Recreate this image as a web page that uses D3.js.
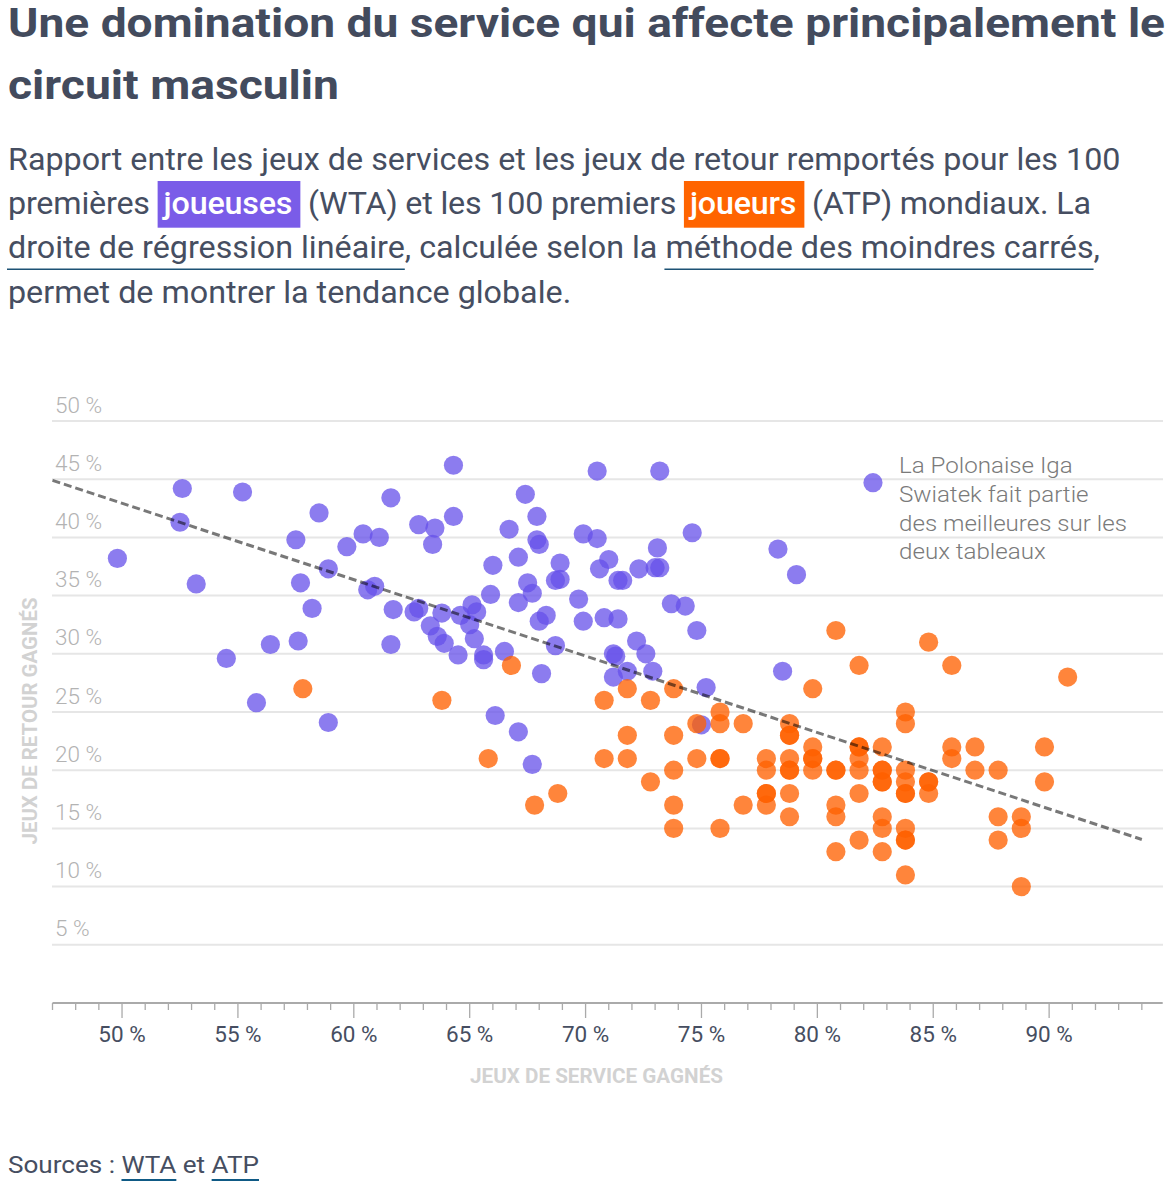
<!DOCTYPE html>
<html><head><meta charset="utf-8">
<script src="https://cdn.jsdelivr.net/npm/d3@7"></script>
<style>
body{margin:0;background:#fff;}
svg{display:block;}
</style></head><body>
<svg id="c" width="1170" height="1188"></svg>
<script>
// ---------- DATA ----------
const xTicks = [50,55,60,65,70,75,80,85,90];
const yTicks = [5,10,15,20,25,30,35,40,45,50];

// WTA (joueuses): % jeux de service gagnés / % jeux de retour gagnés
const wtaService = [49.8,52.6,52.5,53.2,55.2,54.5,55.8,56.4,57.5,57.7,57.6,58.2,58.5,58.9,58.9,59.7,60.4,61.1,60.6,60.9,
  61.7,61.6,61.6,62.8,63.5,63.4,62.6,62.8,64.3,64.3,63.8,64.6,63.3,63.6,63.9,64.5,65.2,65.0,65.1,65.3,
  65.6,65.6,66.5,65.9,66.0,66.7,67.4,67.1,67.1,67.5,67.7,67.9,67.9,68.0,68.3,68.0,68.7,68.9,68.9,68.7,
  68.1,66.1,67.1,67.7,69.9,70.5,70.5,73.2,69.7,69.9,70.8,71.4,71.0,70.6,71.4,71.6,72.3,73.0,73.1,73.2,
  73.7,74.3,74.8,72.2,72.6,71.2,71.3,71.8,71.2,72.9,75.2,74.6,78.3,79.1,78.5,75.0,82.4];
const wtaReturn = [38.2,44.2,41.3,36.0,43.9,29.6,25.8,30.8,39.8,36.1,31.1,33.9,42.1,37.3,24.1,39.2,40.3,40.0,35.5,35.8,
  33.8,30.8,43.4,41.1,40.8,39.4,33.6,33.9,46.2,41.8,33.5,33.3,32.4,31.5,30.9,29.9,31.3,32.5,34.2,33.6,
  29.9,29.5,30.2,35.1,37.6,40.7,43.7,38.3,34.4,36.1,35.2,41.8,39.8,39.4,33.3,32.8,36.3,36.4,37.8,30.7,
  28.3,24.7,23.3,20.5,40.3,39.9,45.7,45.7,34.7,32.8,33.1,33.0,38.1,37.3,36.3,36.3,37.3,37.4,39.1,37.4,
  34.3,34.1,32.0,31.1,30.0,30.0,29.8,28.5,28.0,28.5,27.1,40.4,39.0,36.8,28.5,23.9,44.7];

// ATP (joueurs)
const atpService = [57.8,63.8,66.8,65.8,67.8,68.8,70.8,70.8,71.8,71.8,71.8,72.8,72.8,73.8,73.8,73.8,73.8,73.8,74.8,74.8,
  75.8,75.8,75.8,75.8,75.8,76.8,76.8,77.8,77.8,77.8,77.8,77.8,78.8,78.8,78.8,78.8,78.8,78.8,78.8,78.8,
  79.8,79.8,79.8,79.8,79.8,80.8,80.8,80.8,80.8,80.8,80.8,81.8,81.8,81.8,81.8,81.8,81.8,81.8,
  82.8,82.8,82.8,82.8,82.8,82.8,82.8,82.8,83.8,83.8,83.8,83.8,83.8,83.8,83.8,83.8,83.8,83.8,
  84.8,84.8,84.8,84.8,85.8,85.8,85.8,86.8,86.8,87.8,87.8,87.8,88.8,88.8,88.8,89.8,89.8,90.8];
const atpReturn = [27,26,29,21,17,18,26,21,27,23,21,26,19,27,23,20,17,15,24,21,
  25,24,21,21,15,24,17,21,20,18,18,17,24,23,23,21,20,20,18,16,
  27,22,21,21,20,32,20,20,17,16,13,29,22,22,21,20,18,14,
  22,20,20,19,19,16,15,13,25,24,20,19,18,18,15,14,14,11,
  31,19,19,18,29,22,21,22,20,20,16,14,16,15,10,22,19,28];

// Droite de régression
const regService = [47, 94];
const regReturn = [44.9, 14.05];

// ---------- TEXT ----------
const titleLines = ["Une domination du service qui affecte principalement le", "circuit masculin"];
const subtitleLines = [
  [{t:"Rapport entre les jeux de services et les jeux de retour remportés pour les 100"}],
  [{t:"premières "},{t:"joueuses",hl:"#7a5ce8"},{t:" (WTA) et les 100 premiers "},{t:"joueurs",hl:"#ff6400"},{t:" (ATP) mondiaux. La"}],
  [{t:"droite de régression linéaire",ul:true},{t:", calculée selon la "},{t:"méthode des moindres carrés",ul:true},{t:","}],
  [{t:"permet de montrer la tendance globale."}]
];
const noteLines = ["La Polonaise Iga","Swiatek fait partie","des meilleures sur les","deux tableaux"];

// ---------- DRAW ----------
const svg = d3.select('#c');
const FONT = "Roboto, 'Noto Sans', sans-serif";
const dark = "#464e61";

// Title
const tBase=[37,99], tW=[1157,331];
svg.selectAll('text.title').data(titleLines).join('text').attr('class','title')
  .attr('x',8).attr('y',(d,i)=>tBase[i])
  .attr('textLength',(d,i)=>tW[i]).attr('lengthAdjust','spacingAndGlyphs')
  .style('font-family',FONT).style('font-weight',700).style('font-size','41px')
  .attr('fill','#434b5d').text(d=>d);

// Subtitle
const sBase=[169.5,213.5,258.3,303.3];
const sTarget=[1113,1083,1091,null];
const subG = svg.append('g');
const bgG = subG.append('g'), txG = subG.append('g');
let fs = 28.5;
const probe = txG.append('text').style('font-family',FONT).style('font-weight',400).style('font-size',fs+'px').text(subtitleLines[0][0].t);
const natural = probe.node().getComputedTextLength();
fs = fs*1113/natural;
probe.remove();
const PADL = 6, PADR = 8;
subtitleLines.forEach((segs,li)=>{
  const t = txG.append('text').attr('x',8).attr('y',sBase[li])
    .style('font-family',FONT).style('font-weight',400).style('font-size',fs+'px').attr('fill',dark);
  let idx=0; const marks=[];
  segs.forEach((s,si)=>{
    const ts = t.append('tspan').text(s.t);
    const prevHl = si>0 && segs[si-1].hl;
    if (s.hl) ts.attr('dx', PADL);
    else if (prevHl) ts.attr('dx', PADR);
    if (s.hl) ts.attr('fill','#fff').style('font-weight',500);
    marks.push({s, start: idx, end: idx + s.t.length - 1});
    idx += s.t.length;
  });
  const node = t.node();
  if (sTarget[li] && Math.abs(node.getComputedTextLength()-sTarget[li])>2) {
    t.attr('textLength', sTarget[li]).attr('lengthAdjust','spacing');
  }
  marks.forEach(m=>{
    if (!m.s.hl && !m.s.ul) return;
    const x0 = node.getStartPositionOfChar(m.start).x;
    const x1 = node.getEndPositionOfChar(m.end).x;
    if (m.s.hl) {
      bgG.append('rect').attr('x',x0-PADL).attr('y',sBase[li]-32.5).attr('width',x1-x0+PADL+PADR).attr('height',46.7).attr('fill',m.s.hl);
    } else {
      bgG.append('line').attr('x1',x0-1).attr('x2',x1).attr('y1',sBase[li]+11).attr('y2',sBase[li]+11)
        .attr('stroke','#1d5275').attr('stroke-width',1.4);
    }
  });
});

// Scales
const x = d3.scaleLinear().domain([47,94.9]).range([52.5,1162.7]);
const y = d3.scaleLinear().domain([0,50]).range([1003,421]);

// Grid
svg.append('g').selectAll('line').data(yTicks).join('line')
  .attr('x1',52).attr('x2',1163).attr('y1',d=>y(d)).attr('y2',d=>y(d))
  .attr('stroke','#e6e6e6').attr('stroke-width',2);
svg.append('g').selectAll('text').data(yTicks).join('text')
  .attr('x',55).attr('y',d=>y(d)-8.5)
  .style('font-family',FONT).style('font-size','22.5px').style('font-weight',300)
  .attr('fill','#b3b3b3').text(d=>d+' %');

// X axis
const minor = d3.range(47,95,1);
const ax = svg.append('g');
ax.append('line').attr('x1',x(47)).attr('x2',x(94.9)).attr('y1',1003).attr('y2',1003).attr('stroke','#aaa').attr('stroke-width',2);
ax.selectAll('line.t').data(minor).join('line').attr('class','t')
  .attr('x1',d=>x(d)).attr('x2',d=>x(d)).attr('y1',1003)
  .attr('y2',d=>xTicks.includes(d)?1018:1010).attr('stroke','#aaa').attr('stroke-width',1.3);
ax.selectAll('text').data(xTicks).join('text')
  .attr('x',d=>x(d)).attr('y',1042).attr('text-anchor','middle')
  .style('font-family',FONT).style('font-size','22.5px').style('font-weight',400)
  .attr('fill',dark).text(d=>d+' %');

// Axis titles
svg.append('text').attr('x',596.5).attr('y',1083).attr('text-anchor','middle')
  .attr('textLength',253).attr('lengthAdjust','spacingAndGlyphs')
  .style('font-family',FONT).style('font-size','21px').style('font-weight',700)
  .attr('fill','#d2d2d2').text('JEUX DE SERVICE GAGNÉS');
svg.append('text').attr('transform','translate(37,721) rotate(-90)').attr('text-anchor','middle')
  .attr('textLength',247).attr('lengthAdjust','spacingAndGlyphs')
  .style('font-family',FONT).style('font-size','21px').style('font-weight',700)
  .attr('fill','#d2d2d2').text('JEUX DE RETOUR GAGNÉS');

// Dots
const R = 9.6;
const wta = wtaService.map((s,i)=>({s, r: wtaReturn[i]}));
const atp = atpService.map((s,i)=>({s, r: atpReturn[i]}));
svg.append('g').selectAll('circle').data(wta).join('circle')
  .attr('cx',d=>x(d.s)).attr('cy',d=>y(d.r)).attr('r',R)
  .attr('fill','#6650ea').attr('fill-opacity',0.75);
svg.append('g').selectAll('circle').data(atp).join('circle')
  .attr('cx',d=>x(d.s)).attr('cy',d=>y(d.r)).attr('r',R)
  .attr('fill','#ff6000').attr('fill-opacity',0.77);

// Regression line
svg.append('line')
  .attr('x1',x(regService[0])).attr('y1',y(regReturn[0]))
  .attr('x2',x(regService[1])).attr('y2',y(regReturn[1]))
  .attr('stroke','#000').attr('stroke-opacity',0.53).attr('stroke-width',3)
  .attr('stroke-dasharray','8,4');

// Annotation
const noteG = svg.append('g');
const noteTexts = noteG.selectAll('text').data(noteLines).join('text')
  .attr('x',899).attr('y',(d,i)=>473.3+i*28.7)
  .style('font-family',FONT).style('font-size','22px').style('font-weight',300)
  .attr('fill','#7a7a7a').text(d=>d);
const refW = noteTexts.nodes()[2].getComputedTextLength();
const k = 228/refW;
noteTexts.each(function(){
  const w = this.getComputedTextLength();
  d3.select(this).attr('textLength', w*k).attr('lengthAdjust','spacingAndGlyphs');
});

// Sources
const src = svg.append('text').attr('x',8).attr('y',1173)
  .style('font-family',FONT).style('font-size','24.5px').style('font-weight',400).attr('fill',dark);
const srcSegs = [{t:"Sources : "},{t:"WTA",ul:true},{t:" et "},{t:"ATP",ul:true}];
let si=0; const sm=[];
srcSegs.forEach(s=>{ src.append('tspan').text(s.t); sm.push({s,start:si,end:si+s.t.length-1}); si+=s.t.length; });
src.attr('textLength',251).attr('lengthAdjust','spacingAndGlyphs');
sm.filter(m=>m.s.ul).forEach(m=>{
  const n=src.node();
  const a=n.getStartPositionOfChar(m.start).x, b=n.getEndPositionOfChar(m.end).x;
  svg.append('line').attr('x1',a).attr('x2',b).attr('y1',1180).attr('y2',1180).attr('stroke','#0f5a85').attr('stroke-width',2);
});
</script>
</body></html>
